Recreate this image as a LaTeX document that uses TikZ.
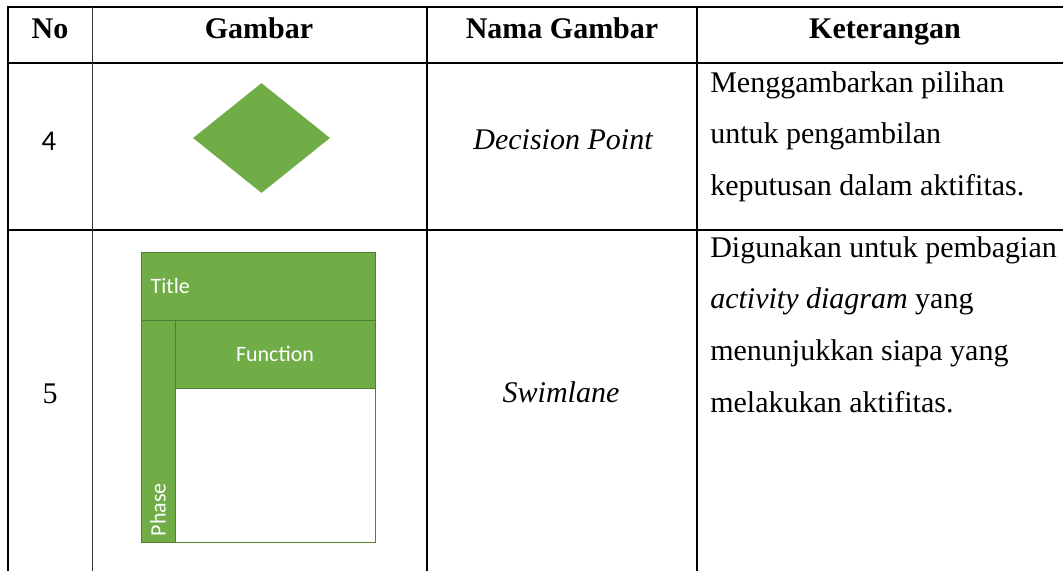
\documentclass[tikz,border=0pt]{standalone}
\usepackage{fontspec}
\setmainfont{Liberation Serif}
\newfontfamily\calibri{Carlito}
\usetikzlibrary{positioning,shapes.geometric}

\definecolor{lanegreen}{RGB}{112,173,71}
\definecolor{laneedge}{RGB}{80,126,50}

\begin{document}
\begin{tikzpicture}[x=0.75pt,y=-0.75pt]
\tikzset{
  thickrule/.style={line width=1.5pt},
  thinrule/.style={line width=0.75pt,black!80},
  headtext/.style={font=\rmfamily\fontsize{22.5}{27}\selectfont\bfseries,anchor=base},
  numtext/.style={font=\rmfamily\fontsize{22.5}{27}\selectfont,anchor=base},
  nametext/.style={font=\rmfamily\fontsize{22.5}{27}\selectfont\itshape,anchor=base},
  desctext/.style={font=\rmfamily\fontsize{22.5}{38.8}\selectfont,align=left,anchor=north west,inner sep=0pt},
  lane/.style={fill=lanegreen,draw=laneedge,line width=0.75pt},
  lanetext/.style={font=\calibri\fontsize{16.5}{20}\selectfont,text=white},
  decision/.style={diamond,fill=lanegreen,inner sep=0pt,minimum width={137*0.75pt},minimum height={110*0.75pt}}
}
\useasboundingbox (0,0) rectangle (1063,571);

%% ========== RULES ==========
\draw[thickrule] (7,7) -- (1063,7);
\draw[thickrule] (7,63) -- (1063,63);
\draw[thickrule] (7,230) -- (1063,230);
\draw[thickrule] (8,6) -- (8,571);
\draw[thinrule] (92,7) -- (92,571);
\draw[thickrule] (427,7) -- (427,571);
\draw[thickrule] (697,7) -- (697,571);

%% ========== HEADER ==========
\node[headtext] (h-no) at (50,38) {No};
\node[headtext] (h-gambar) at (259,38) {Gambar};
\node[headtext] (h-nama) at (562,38) {Nama Gambar};
\node[headtext] (h-ket) at (885,38) {Keterangan};

%% ========== ROW 4 ==========
\node[numtext,font=\calibri\fontsize{21.5}{26}\selectfont] (no-4) at (49,150) {4};
\node[decision] (dec) at (261.5,138) {};
\node[nametext] (nama-4) at (563,149) {Decision Point};
\node[desctext] (ket-4) at (710,71) {Menggambarkan pilihan\\untuk pengambilan\\keputusan dalam aktifitas.};

%% ========== ROW 5 ==========
\node[numtext] (no-5) at (50,403) {5};
% swimlane
\draw[lane] (141,252) rectangle (375,320);
\draw[lane] (141,320) rectangle (175,542);
\draw[lane] (175,320) rectangle (375,388);
\draw[laneedge,line width=0.75pt,fill=white] (175,388) rectangle (375,542);
\node[lanetext,anchor=west] (title) at (146,286) {Title};
\node[lanetext] (function) at (275,354) {Function};
\node[lanetext,rotate=90,anchor=west] (phase) at (158,541) {Phase};
\node[nametext] (nama-5) at (561,402) {Swimlane};
\node[desctext] (ket-5) at (710,236) {Digunakan untuk pembagian\\\textit{activity diagram} yang\\menunjukkan siapa yang\\melakukan aktifitas.};

\end{tikzpicture}
\end{document}
